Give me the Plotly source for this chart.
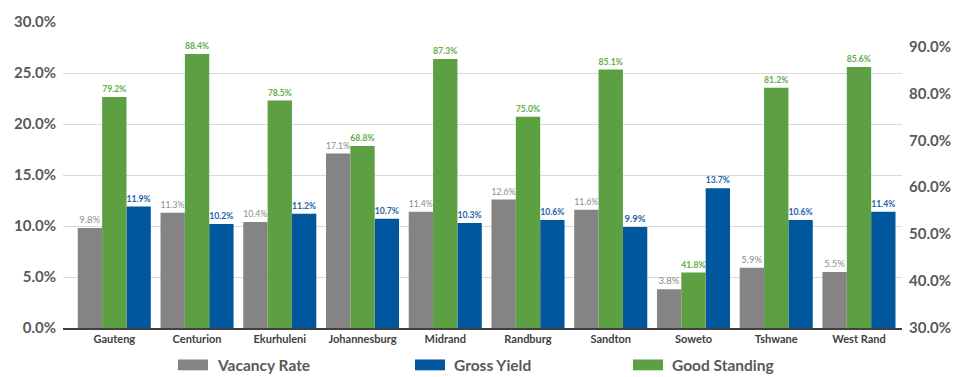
import plotly.graph_objects as go

# Rental market indicators by region (values in %)
regions = ["Gauteng", "Centurion", "Ekurhuleni", "Johannesburg", "Midrand",
           "Randburg", "Sandton", "Soweto", "Tshwane", "West Rand"]
vacancy_rate = [9.8, 11.3, 10.4, 17.1, 11.4, 12.6, 11.6, 3.8, 5.9, 5.5]
gross_yield = [11.9, 10.2, 11.2, 10.7, 10.3, 10.6, 9.9, 13.7, 10.6, 11.4]
good_standing = [79.2, 88.4, 78.5, 68.8, 87.3, 75.0, 85.1, 41.8, 81.2, 85.6]

GREY = "#858384"
GREEN = "#5DA044"
BLUE = "#00579D"
FONT = "Lato, 'Open Sans', sans-serif"
AXIS_TXT = "#595959"

fig = go.Figure()

def pct(vals):
    return [v / 100 for v in vals]

fig.add_trace(go.Bar(
    x=regions, y=pct(vacancy_rate), name="Vacancy Rate",
    marker=dict(color=GREY, line=dict(width=0)),
    offsetgroup="a", alignmentgroup="g",
    texttemplate="%{y:.1%}", textposition="outside",
    outsidetextfont=dict(family=FONT, size=9.5, color="#8C8C8C"),
    cliponaxis=False, yaxis="y",
))
fig.add_trace(go.Bar(
    x=regions, y=pct(good_standing), name="Good Standing",
    marker=dict(color=GREEN, line=dict(width=0)),
    offsetgroup="b", alignmentgroup="g",
    texttemplate="<b>%{y:.1%}</b>", textposition="outside",
    outsidetextfont=dict(family=FONT, size=9.5, color="#5FAD47"),
    cliponaxis=False, yaxis="y2",
))
fig.add_trace(go.Bar(
    x=regions, y=pct(gross_yield), name="Gross Yield",
    marker=dict(color=BLUE, line=dict(width=0)),
    offsetgroup="c", alignmentgroup="g",
    texttemplate="<b>%{y:.1%}</b>", textposition="outside",
    outsidetextfont=dict(family=FONT, size=9.5, color="#1C62AB"),
    cliponaxis=False, yaxis="y",
))

# Legend drawn as wide swatches with labels below the plot
legend_items = [("Vacancy Rate", GREY, 178), ("Gross Yield", BLUE, 415), ("Good Standing", GREEN, 633)]
W, H = 968, 377
ml, mr, mt, mb = 63, 66, 17, 49
pw, ph = W - ml - mr, H - mt - mb
shapes, annotations = [], []
for label, col, px in legend_items:
    x0 = (px - ml) / pw
    x1 = (px + 30 - ml) / pw
    y0 = (H - mb - 371) / ph
    y1 = (H - mb - 360) / ph
    shapes.append(dict(type="rect", xref="paper", yref="paper",
                       x0=x0, x1=x1, y0=y0, y1=y1,
                       fillcolor=col, line=dict(width=0)))
    annotations.append(dict(xref="paper", yref="paper",
                            x=(px + 37 - ml) / pw, y=(H - mb - 366) / ph,
                            xanchor="left", yanchor="middle", showarrow=False,
                            text=f"<b>{label}</b>",
                            font=dict(family=FONT, size=15.5, color=AXIS_TXT)))

fig.update_layout(
    width=W, height=H,
    margin=dict(l=ml, r=mr, t=mt, b=mb, pad=0),
    paper_bgcolor="white", plot_bgcolor="white",
    barmode="group", bargap=0.117, bargroupgap=0,
    showlegend=False,
    font=dict(family=FONT),
    shapes=shapes, annotations=annotations,
    xaxis=dict(
        range=[-0.62, 9.52],
        tickfont=dict(family=FONT, size=11, color="#404040", weight="bold"),
        showline=True, linecolor="#404040", linewidth=1.5,
        showgrid=False, ticks="", fixedrange=True,
    ),
    yaxis=dict(
        range=[0, 0.30], dtick=0.05, tickformat=".1%",
        tickfont=dict(family=FONT, size=15, color=AXIS_TXT, weight="bold"),
        showgrid=True, gridcolor="#D9D9D9", gridwidth=1,
        zeroline=False, showline=False, ticks="",
        ticklabelstandoff=6,
    ),
    yaxis2=dict(
        overlaying="y", side="right",
        range=[0.30, 0.952], tickvals=[0.3, 0.4, 0.5, 0.6, 0.7, 0.8, 0.9],
        tickformat=".1%",
        tickfont=dict(family=FONT, size=15, color=AXIS_TXT, weight="bold"),
        showgrid=False, zeroline=False, showline=False, ticks="",
        ticklabelstandoff=6,
    ),
)

fig.write_html("out.html")
